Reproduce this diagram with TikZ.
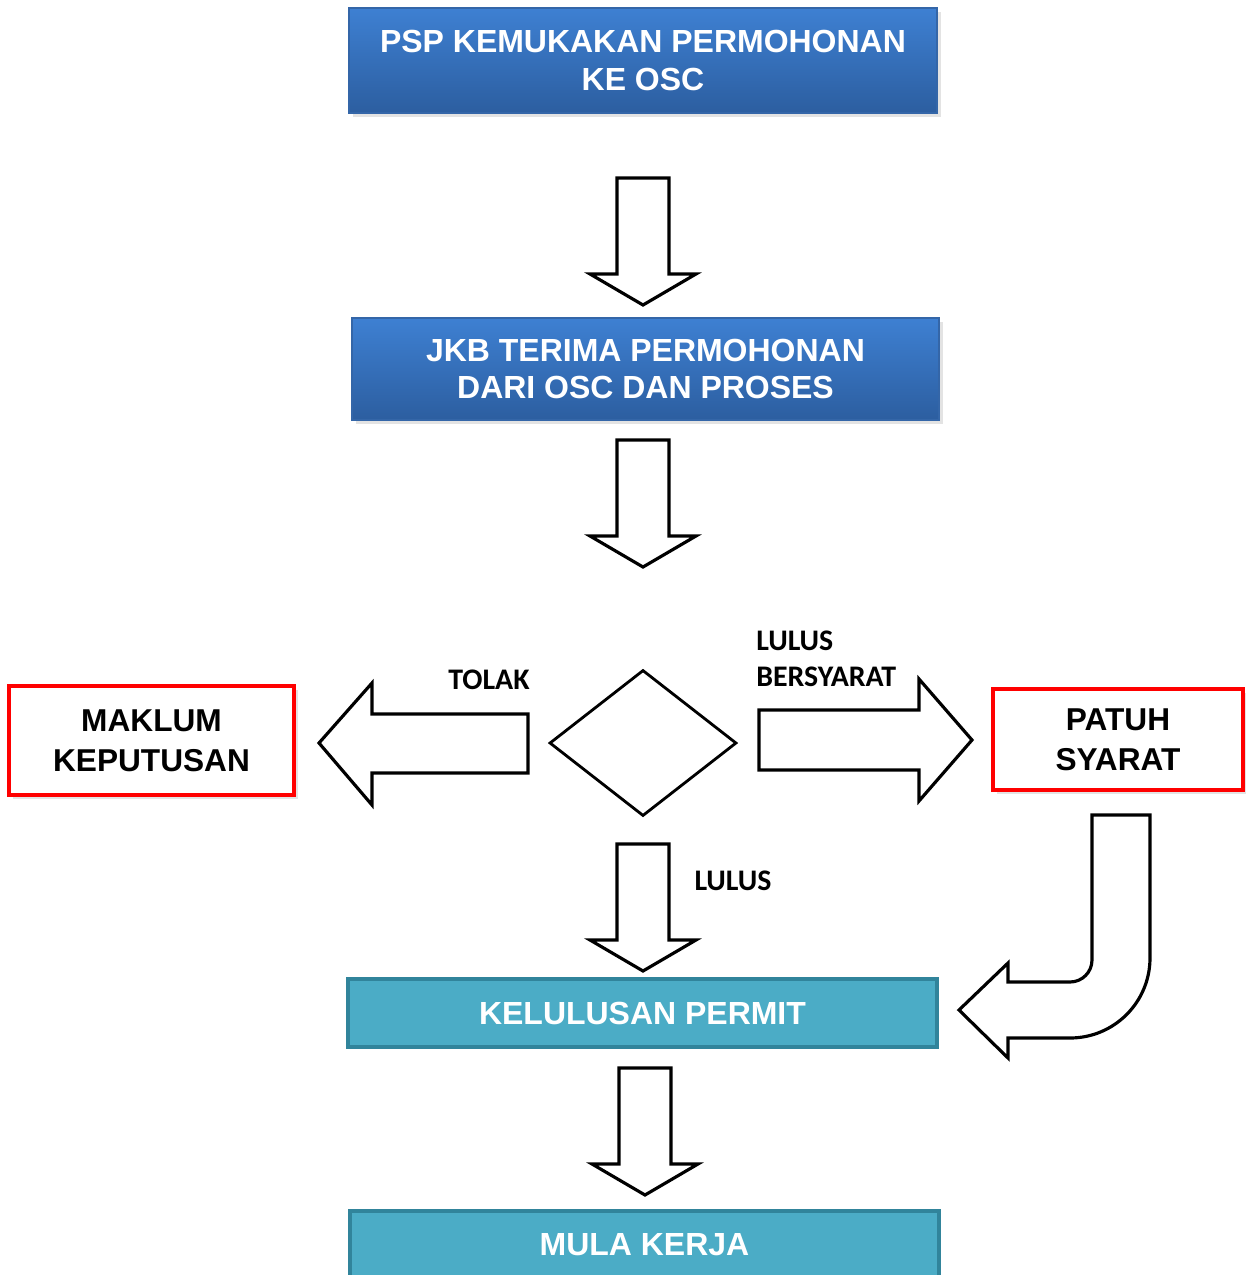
\documentclass[tikz,border=0pt]{standalone}
\usepackage{fontspec}
\setmainfont{Liberation Sans}
\newfontfamily\labelfont{Carlito}
\usetikzlibrary{shapes.geometric,shadows}

\definecolor{boxtop}{RGB}{62,128,210}
\definecolor{boxbot}{RGB}{44,94,160}
\definecolor{boxline}{RGB}{52,102,168}
\definecolor{tealfill}{RGB}{75,172,198}
\definecolor{tealline}{RGB}{49,132,155}
\definecolor{flagred}{RGB}{255,0,0}

\tikzset{
  bluebox/.style={draw=boxline,line width=0.6pt,top color=boxtop,bottom color=boxbot,
    text=white,font=\bfseries\fontsize{18.2}{21.5}\selectfont,align=center,
    drop shadow={opacity=0.22,shadow xshift=2pt,shadow yshift=-2.5pt}},
  tealbox/.style={draw=tealline,line width=2pt,fill=tealfill,
    text=white,font=\bfseries\fontsize{18.2}{21.5}\selectfont,align=center},
  redbox/.style={draw=flagred,line width=2.4pt,fill=white,
    text=black,font=\bfseries\fontsize{18}{22.5}\selectfont,align=center,
    drop shadow={opacity=0.22,shadow xshift=2pt,shadow yshift=-2.5pt}},
  flowlabel/.style={font=\labelfont\bfseries\fontsize{17}{20.5}\selectfont,inner sep=0pt},
  blockline/.style={draw=black,line width=1.8pt,fill=white,line join=miter},
  downblock/.pic={
    \draw[blockline] (-26,0) -- (26,0) -- (26,96) -- (53,96) -- (0,127)
      -- (-53,96) -- (-26,96) -- cycle;
  },
}

\begin{document}
\begin{tikzpicture}[x=0.02cm,y=-0.02cm]
  \useasboundingbox (0,0) rectangle (1245,1275);

  % boxes
  \node (psp) at (643,60.5) [bluebox,minimum width=588*0.02cm,minimum height=105*0.02cm]
    {PSP KEMUKAKAN PERMOHONAN\\KE OSC};
  \node (jkb) at (645.5,369) [bluebox,minimum width=587*0.02cm,minimum height=102*0.02cm]
    {JKB TERIMA PERMOHONAN\\DARI OSC DAN PROSES};
  \node (choice) at (643,743) [diamond,draw,line width=1.6pt,inner sep=0pt,
    minimum width=187*0.02cm,minimum height=146*0.02cm] {};
  \node (maklum) at (151.5,740.5) [redbox,minimum width=285*0.02cm,minimum height=109*0.02cm]
    {MAKLUM\\KEPUTUSAN};
  \node (patuh) at (1118,739.5) [redbox,minimum width=250*0.02cm,minimum height=101*0.02cm]
    {PATUH\\SYARAT};
  \node (permit) at (642.5,1013) [tealbox,minimum width=589*0.02cm,minimum height=68*0.02cm]
    {KELULUSAN PERMIT};
  \node (kerja) at (644.5,1245) [tealbox,minimum width=589*0.02cm,minimum height=68*0.02cm]
    {MULA KERJA};

  % down arrows
  \pic at (643,178) {downblock};
  \pic at (643,440) {downblock};
  \pic at (643,844) {downblock};
  \pic at (645,1068) {downblock};

  % side arrows
  \draw[blockline] (528,714) -- (372,714) -- (372,683) -- (319,743) -- (372,805)
    -- (372,773) -- (528,773) -- cycle; % tolak
  \draw[blockline] (759,710) -- (919,710) -- (919,679) -- (972,740) -- (919,801)
    -- (919,770) -- (759,770) -- cycle; % bersyarat
  \draw[blockline] (1092,815) -- (1150,815) -- (1150,958) arc[start angle=0,end angle=90,radius=80]
    -- (1008,1038) -- (1008,1058) -- (959,1010) -- (1008,963) -- (1008,982)
    -- (1070,982) arc[start angle=90,end angle=0,radius=22] -- cycle; % back to permit

  % labels
  \node (tolak) at (489,680) [flowlabel] {TOLAK};
  \node (bersyarat) at (756,659) [flowlabel,anchor=west,align=left] {LULUS\\BERSYARAT};
  \node (lulus) at (733,881) [flowlabel] {LULUS};
\end{tikzpicture}
\end{document}
